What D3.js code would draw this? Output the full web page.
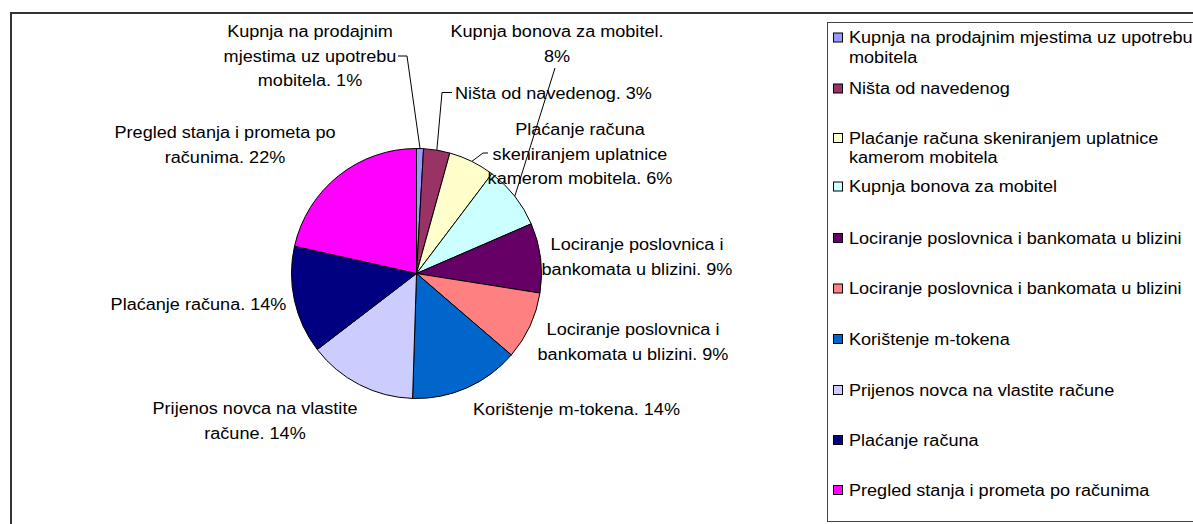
<!DOCTYPE html>
<html>
<head>
<meta charset="utf-8">
<script src="https://cdn.jsdelivr.net/npm/d3@7"></script>
<style>
  html, body { margin: 0; padding: 0; background: #fff; overflow: hidden; }
  svg { display: block; }
  text { font-family: "Liberation Sans", Arial, sans-serif; fill: #000; }
</style>
</head>
<body>
<svg id="chart" width="1193" height="524"></svg>
<script>
// ---- data ----
const categories = [
  "Kupnja na prodajnim mjestima uz upotrebu mobitela",
  "Ništa od navedenog",
  "Plaćanje računa skeniranjem uplatnice kamerom mobitela",
  "Kupnja bonova za mobitel",
  "Lociranje poslovnica i bankomata u blizini",
  "Lociranje poslovnica i bankomata u blizini",
  "Korištenje m-tokena",
  "Prijenos novca na vlastite račune",
  "Plaćanje računa",
  "Pregled stanja i prometa po računima"
];
const values = [0.9, 3.4, 6.0, 8.2, 9.0, 8.8, 14.2, 14.1, 13.9, 21.5];
const colors = ["#9999FF", "#993366", "#FFFFCC", "#CCFFFF", "#660066",
                "#FF8080", "#0066CC", "#CCCCFF", "#000080", "#FF00FF"];

// ---- layout ----
const W = 1193, H = 524;
const cx = 416.5, cy = 273.5, R = 125;
const labelFont = 16, legendFont = 16, stretch = 1.13;
const labelLineH = 24.6, legendLineH = 20;
// words per line for the data labels
const labelBreaks = [[3,3,2],[4],[2,2,3],[4,1],[3,4],[3,4],[3],[4,2],[3],[5,2]];
// label anchor x, first baseline y, anchor type
const labelPos = [
  {x: 310, y: 37, a: "middle"},
  {x: 455, y: 99, a: "start"},
  {x: 580, y: 135, a: "middle"},
  {x: 557, y: 37, a: "middle"},
  {x: 637, y: 250, a: "middle"},
  {x: 633, y: 335, a: "middle"},
  {x: 576.5, y: 415, a: "middle"},
  {x: 255, y: 414, a: "middle"},
  {x: 198.5, y: 310, a: "middle"},
  {x: 225, y: 138, a: "middle"}
];
// label-side points of leader lines (end point is computed on the pie edge)
const leaders = [
  [[398, 56], [407, 56]],
  [[452, 92.5], [442, 92.5]],
  [[488, 153], [483, 153]],
  [[555, 68]],
  null, null, null, null, null, null
];
const legendBreaks = [[6,1],[3],[4,2],[4],[6],[6],[2],[5],[2],[6]];
const legendRowY = [37.5, 88.5, 138, 186.5, 238, 288.5, 339, 390, 440, 490];

const svg = d3.select("#chart");

// chart area border (clipped by the window on right and bottom)
svg.append("rect")
  .attr("x", 11).attr("y", 13)
  .attr("width", W + 20).attr("height", H + 20)
  .attr("fill", "none").attr("stroke", "#333").attr("stroke-width", 2);

// ---- pie ----
const total = d3.sum(values);
const pie = d3.pie().sort(null).value(d => d)(values);
const arc = d3.arc().innerRadius(0).outerRadius(R);
const edge = d3.arc().innerRadius(R).outerRadius(R);

const g = svg.append("g").attr("transform", `translate(${cx},${cy})`);
g.selectAll("path.slice").data(pie).join("path")
  .attr("class", "slice")
  .attr("d", arc)
  .attr("fill", (d, i) => colors[i])
  .attr("stroke", "#000").attr("stroke-width", 1)
  .attr("stroke-linejoin", "round");

// leader lines
pie.forEach((d, i) => {
  if (!leaders[i]) return;
  const c = edge.centroid(d);
  const pts = leaders[i].concat([[cx + c[0], cy + c[1]]]);
  svg.append("path")
    .attr("d", d3.line()(pts))
    .attr("fill", "none").attr("stroke", "#000").attr("stroke-width", 1);
});

function splitWords(text, breaks) {
  const words = text.split(" ");
  const lines = [];
  let k = 0;
  breaks.forEach(n => { lines.push(words.slice(k, k + n).join(" ")); k += n; });
  if (k < words.length) lines[lines.length - 1] += " " + words.slice(k).join(" ");
  return lines;
}

// data labels
pie.forEach((d, i) => {
  const pct = Math.round(d.data / total * 100);
  const txt = categories[i] + ". " + pct + "%";
  const lines = splitWords(txt, labelBreaks[i]);
  const p = labelPos[i];
  const t = svg.append("text")
    .attr("transform", `translate(${p.x},${p.y}) scale(${stretch},1)`)
    .attr("text-anchor", p.a)
    .style("font-size", labelFont + "px");
  lines.forEach((ln, j) => {
    t.append("tspan").attr("x", 0).attr("y", j * labelLineH).text(ln);
  });
});

// ---- legend ----
svg.append("rect")
  .attr("x", 827.5).attr("y", 22.5)
  .attr("width", 500).attr("height", 499)
  .attr("fill", "#fff").attr("stroke", "#444").attr("stroke-width", 1);

categories.forEach((c, i) => {
  const y = legendRowY[i];
  svg.append("rect")
    .attr("x", 833.5).attr("y", y - 4.5)
    .attr("width", 9).attr("height", 9)
    .attr("fill", colors[i]).attr("stroke", "#000").attr("stroke-width", 1);
  const lines = splitWords(c, legendBreaks[i]);
  const t = svg.append("text")
    .attr("transform", `translate(849,${y + 5.5}) scale(${stretch},1)`)
    .style("font-size", legendFont + "px");
  lines.forEach((ln, j) => {
    t.append("tspan").attr("x", 0).attr("y", j * legendLineH).text(ln);
  });
});
</script>
</body>
</html>
